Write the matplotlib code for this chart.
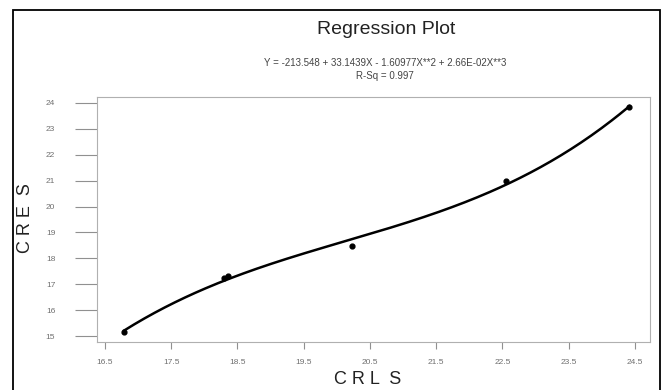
import matplotlib
matplotlib.use('Agg')
import matplotlib.pyplot as plt
from matplotlib.patches import Rectangle
import numpy as np

plt.rcParams['font.family'] = ['Liberation Sans', 'DejaVu Sans']

# points
crl_s = [16.79, 18.30, 18.36, 20.23, 22.55, 24.42]
cre_s = [15.14, 17.23, 17.33, 18.47, 21.00, 23.83]

x_ticks = [16.5, 17.5, 18.5, 19.5, 20.5, 21.5, 22.5, 23.5, 24.5]
y_ticks = [15, 16, 17, 18, 19, 20, 21, 22, 23, 24]

title = 'Regression Plot'
equation = "Y = -213.548 + 33.1439X - 1.60977X**2 + 2.66E-02X**3"
rsq = 'R-Sq = 0.997'

# cubic regression through the points
coef = np.polyfit(crl_s, cre_s, 3)
xs = np.linspace(min(crl_s), max(crl_s), 200)
ys = np.polyval(coef, xs)

fig = plt.figure(figsize=(6.65, 3.9), dpi=100)
ax = fig.add_axes([97 / 665, 1 - 342 / 390, (650 - 97) / 665, (342 - 97) / 390])

ax.plot(xs, ys, color='black', lw=1.8)
ax.scatter(crl_s, cre_s, s=12, color='black', zorder=3)

ax.set_xlim(16.38, 24.73)
ax.set_ylim(14.77, 24.23)
ax.set_xticks(x_ticks)
ax.set_yticks(y_ticks)
ax.set_xticklabels([f'{v:.1f}' for v in x_ticks])
ax.set_yticklabels([str(v) for v in y_ticks])

for s in ax.spines.values():
    s.set_color('#b0b0b0')
    s.set_linewidth(0.8)
ax.tick_params(axis='y', length=16, width=0.8, color='#909090', pad=14,
               labelsize=6, labelcolor='#707070')
ax.tick_params(axis='x', length=5, width=0.8, color='#909090', pad=7,
               labelsize=6, labelcolor='#707070')

fig.text(386 / 665, 1 - 30 / 390, title, ha='center', va='center',
         fontsize=14, color='#222222')
fig.text(385 / 665, 1 - 63 / 390, equation, ha='center', va='center',
         fontsize=7, color='#444444')
fig.text(385 / 665, 1 - 76 / 390, rsq, ha='center', va='center',
         fontsize=7, color='#444444')

fig.text(368 / 665, 1 - 380 / 390, 'C R L  S', ha='center', va='center',
         fontsize=13, color='#222222')
fig.text(26 / 665, 1 - 218 / 390, 'C R E  S', ha='center', va='center',
         fontsize=13, color='#222222', rotation=90)

# outer frame (bottom edge runs off the picture)
fig.add_artist(Rectangle((12.5 / 665, -0.05), (660 - 12.5) / 665, 1.05 - 10 / 390,
                         transform=fig.transFigure, fill=False,
                         edgecolor='black', lw=1.3))

fig.savefig('out.png', dpi=100)
